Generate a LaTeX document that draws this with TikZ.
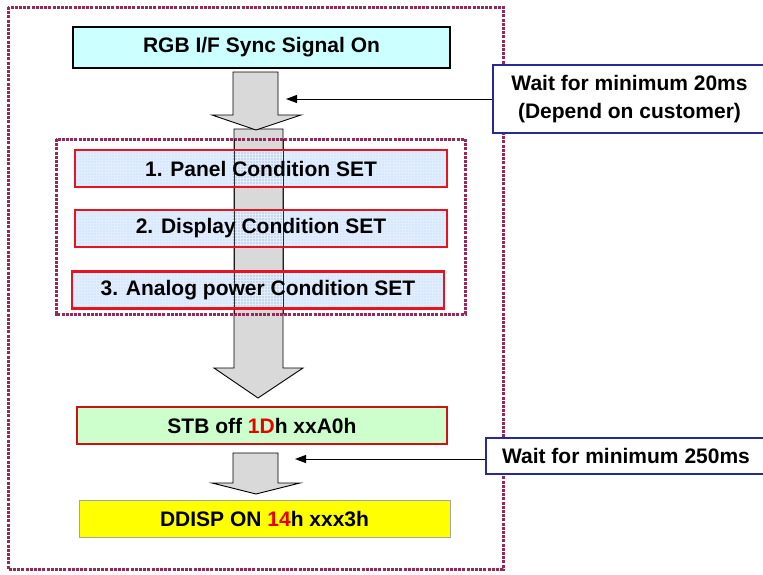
\documentclass[tikz,border=0pt]{standalone}
\usepackage{fontspec}
\setmainfont{Liberation Sans}
\usetikzlibrary{arrows.meta,patterns}
\definecolor{frame}{RGB}{150,40,90}
\definecolor{rgbfill}{RGB}{204,255,255}
\definecolor{condfill}{RGB}{190,215,250}
\definecolor{condgrid}{RGB}{225,238,255}
\definecolor{condred}{RGB}{230,20,30}
\definecolor{stbred}{RGB}{200,20,20}
\definecolor{stbfill}{RGB}{204,255,204}
\definecolor{dispfill}{RGB}{255,255,0}
\definecolor{arrowgray}{RGB}{217,217,217}
\definecolor{notenavy}{RGB}{40,40,150}
\definecolor{hexred}{RGB}{235,0,0}
\begin{document}
\begin{tikzpicture}[x=1pt,y=-1pt,
  txt/.style={font=\fontsize{21}{28}\selectfont\bfseries, text=black, align=center, inner sep=0pt},
  dotframe/.style={draw=frame, line width=3pt, dash pattern=on 3pt off 1.2pt},
  bigarrow/.style={draw=black, line width=0.9pt, fill=arrowgray, line join=miter},
  condbox/.style={txt, draw=condred, line width=2.6pt, minimum width=372pt, minimum height=37pt},
  notebox/.style={txt, draw=notenavy, line width=1.2pt, fill=white},
  thinarrow/.style={draw=black, line width=1pt, -{Triangle[length=11pt,width=8pt]}}
]
\useasboundingbox (0,0) rectangle (763,574);
\fill[white] (0,0) rectangle (763,574);
% outer dotted frame
\draw[dotframe] (8,7) rectangle (503,569);
% long arrow (behind condition boxes)
\draw[bigarrow] (234,129) -- (283,129) -- (283,368) -- (303,368) -- (258,398) -- (214,368) -- (234,368) -- cycle;
% first arrow
\draw[bigarrow] (233,72) -- (278,72) -- (278,115) -- (301,115) -- (256,130) -- (212,115) -- (233,115) -- cycle;
% third arrow
\draw[bigarrow] (233,453) -- (278,453) -- (278,483) -- (300,483) -- (256,494) -- (212,483) -- (233,483) -- cycle;
% inner dotted frame
\draw[dotframe] (56,139) rectangle (465,314);
% boxes
\node[txt, draw=black, line width=1.3pt, fill=rgbfill, minimum width=377pt, minimum height=41pt] (rgb) at (261.5,47.5) {RGB I/F Sync Signal On};
\foreach \cx/\cy in {261/168.5, 261/228.5, 258/290}{
  \fill[condfill, fill opacity=0.6] (\cx-186,\cy-18.5) rectangle (\cx+186,\cy+18.5);
  \fill[pattern=grid, pattern color=condgrid, fill opacity=0.5] (\cx-186,\cy-18.5) rectangle (\cx+186,\cy+18.5);
}
% shaft edges seen through the boxes
\draw[black, line width=0.9pt, draw opacity=0.8] (234,139) -- (234,314) (283,139) -- (283,314);
\node[condbox] (c1) at (261,168.5) {1. Panel Condition SET};
\node[condbox] (c2) at (261,228.5) {2. Display Condition SET};
\node[condbox] (c3) at (258,290) {3. Analog power Condition SET};
\node[txt, draw=stbred, line width=2.6pt, fill=stbfill, minimum width=370pt, minimum height=37pt] (stb) at (262,425.5) {STB off \textcolor{hexred}{1D}h xxA0h};
\node[txt, draw=black!35, line width=0.8pt, fill=dispfill, minimum width=371pt, minimum height=37pt] (ddisp) at (264.5,518.5) {DDISP ON \textcolor{hexred}{14}h xxx3h};
% note boxes
\begin{scope}
\clip (0,0) rectangle (763,574);
\node[notebox, minimum width=273pt, minimum height=68pt] (note1) at (629.5,99) {Wait for minimum 20ms\\(Depend on customer)};
\node[notebox, minimum width=280pt, minimum height=36pt] (note2) at (626,456) {Wait for minimum 250ms};
\end{scope}
\coordinate (t1) at (286,99);
\coordinate (t2) at (295,459);
\draw[thinarrow] (note1.west |- t1) -- (t1);
\draw[thinarrow] (note2.west |- t2) -- (t2);
\end{tikzpicture}
\end{document}
